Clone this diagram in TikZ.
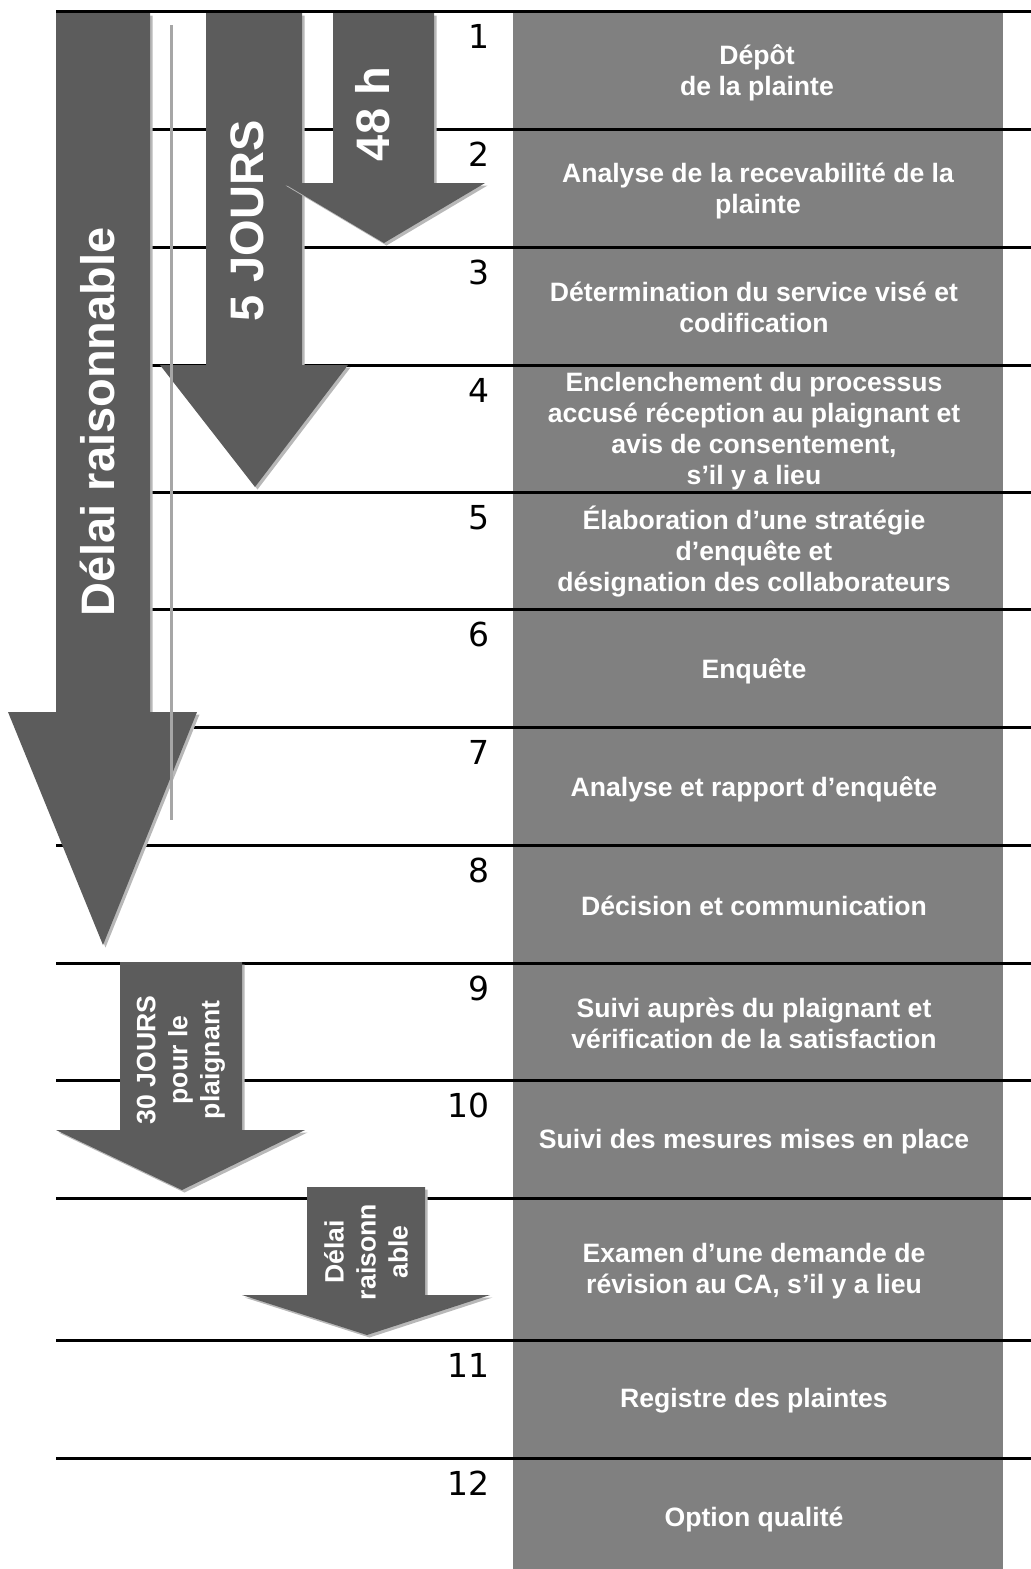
\documentclass[tikz,border=0pt]{standalone}
\usepackage{fontspec}
\setmainfont{Liberation Sans}
\newfontfamily\numfont{DejaVu Sans}
\definecolor{boxgray}{HTML}{808080}
\definecolor{arrowgray}{HTML}{5C5C5C}
\definecolor{shadowgray}{HTML}{B8B8B8}
\definecolor{guidegray}{HTML}{A6A6A6}
\tikzset{
	steptext/.style={text=white,align=center,inner sep=0pt,font=\fontsize{13.3}{15.5}\selectfont\bfseries},
	bigdelay/.style={text=white,rotate=90,inner sep=0pt,font=\fontsize{23.5}{28}\selectfont\bfseries},
	smalldelay/.style={text=white,rotate=90,align=center,inner sep=0pt,font=\fontsize{13.3}{16}\selectfont\bfseries},
	stepnum/.style={anchor=north east,inner sep=0pt,font=\numfont\fontsize{16.5}{18}\selectfont},
	arrowshape/.style={fill=arrowgray},
	arrowshadow/.style={fill=shadowgray,shift={(2.5,2.5)}}
}
\begin{document}
\begin{tikzpicture}[x=0.5pt,y=-0.5pt]
	\useasboundingbox (0,0) rectangle (1031,1569);
	%gray column
	\fill[boxgray] (513,11) rectangle (1003,1569);
	%row lines
	\foreach \y in {11,129,247,365,492,609,727,845,963,1080,1198,1340,1458}
	\draw[line width=1.5pt] (56,\y) -- (1031,\y);
	%step numbers
	\foreach \i/\y in {1/11,2/129,3/247,4/365,5/492,6/609,7/727,8/845,9/963,10/1080,11/1340,12/1458}
	\node[stepnum] (num\i) at (490,\y+13) {\i};
	%step texts
	\node[steptext] (step1) at (757,73) {Dépôt\\de la plainte};
	\node[steptext] (step2) at (758,191) {Analyse de la recevabilité de la\\plainte};
	\node[steptext] (step3) at (754,307) {Détermination du service visé et\\codification};
	\node[steptext] (step4) at (754,431) {Enclenchement du processus\\accusé réception au plaignant et\\avis de consentement,\\s’il y a lieu};
	\node[steptext] (step5) at (754,552) {Élaboration d’une stratégie\\d’enquête et\\désignation des collaborateurs};
	\node[steptext] (step6) at (754,671) {Enquête};
	\node[steptext] (step7) at (754,789) {Analyse et rapport d’enquête};
	\node[steptext] (step8) at (754,906) {Décision et communication};
	\node[steptext] (step9) at (754,1023) {Suivi auprès du plaignant et\\vérification de la satisfaction};
	\node[steptext] (step10) at (754,1142) {Suivi des mesures mises en place};
	\node[steptext] (revision) at (754,1271) {Examen d’une demande de\\révision au CA, s’il y a lieu};
	\node[steptext] (step11) at (754,1401) {Registre des plaintes};
	\node[steptext] (step12) at (754,1519) {Option qualité};
	%delai raisonnable arrow
	\fill[arrowshadow] (56,13) -- (150,13) -- (150,712) -- (197,712) -- (103,945) -- (8,712) -- (56,712) -- cycle;
	\fill[arrowshape] (56,13) -- (150,13) -- (150,712) -- (197,712) -- (103,945) -- (8,712) -- (56,712) -- cycle;
	\node[bigdelay] (delai) at (97,422) {Délai raisonnable};
	%5 jours arrow
	\fill[arrowshadow] (206,13) -- (302,13) -- (302,365) -- (348,365) -- (255,487) -- (160,365) -- (206,365) -- cycle;
	\fill[arrowshape] (206,13) -- (302,13) -- (302,365) -- (348,365) -- (255,487) -- (160,365) -- (206,365) -- cycle;
	\node[bigdelay] (cinqjours) at (247,221) {5 JOURS};
	%48 h arrow
	\fill[arrowshadow] (333,13) -- (434,13) -- (434,183) -- (485,183) -- (384,243) -- (283,183) -- (333,183) -- cycle;
	\fill[arrowshape] (333,13) -- (434,13) -- (434,183) -- (485,183) -- (384,243) -- (283,183) -- (333,183) -- cycle;
	\node[bigdelay] (heures) at (373,114) {48 h};
	%30 jours arrow
	\fill[arrowshadow] (120,962) -- (242,962) -- (242,1130) -- (305,1130) -- (182,1190) -- (56,1130) -- (120,1130) -- cycle;
	\fill[arrowshape] (120,962) -- (242,962) -- (242,1130) -- (305,1130) -- (182,1190) -- (56,1130) -- (120,1130) -- cycle;
	\node[smalldelay] (trentejours) at (181,1060) {30 JOURS\\pour le\\plaignant};
	%revision arrow
	\fill[arrowshadow] (307,1187) -- (425,1187) -- (425,1295) -- (490,1295) -- (367,1335) -- (242,1295) -- (307,1295) -- cycle;
	\fill[arrowshape] (307,1187) -- (425,1187) -- (425,1295) -- (490,1295) -- (367,1335) -- (242,1295) -- (307,1295) -- cycle;
	\node[smalldelay] (delaicourt) at (366,1252) {Délai\\raisonn\\able};
	%guide line
	\draw[guidegray,line width=1.5pt] (171,25) -- (171,820);
\end{tikzpicture}
\end{document}
